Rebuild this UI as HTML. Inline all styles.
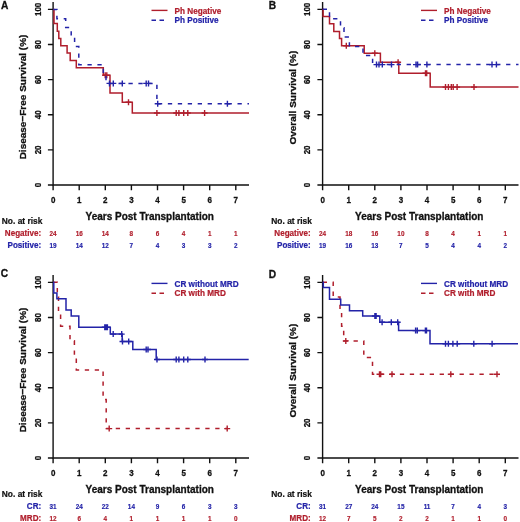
<!DOCTYPE html>
<html><head><meta charset="utf-8"><style>
html,body{margin:0;padding:0;background:#fff;width:520px;height:522px;overflow:hidden}
svg{display:block;filter:blur(0.3px)}
text{font-family:"Liberation Sans", sans-serif;font-weight:bold;fill:#111;stroke:#111;stroke-width:0.3px}
.tk{font-size:8px;stroke-width:0.25px}
.tt{font-size:10px;stroke-width:0.3px}
.lt{font-size:10.2px;stroke-width:0.3px}
.lg{font-size:8.2px;stroke-width:0.2px}
.rk{font-size:8.1px;stroke-width:0.2px}
.nm{font-size:6.4px;stroke-width:0.15px}
.nr{font-size:8.4px}
</style></head><body>
<svg width="520" height="522" viewBox="0 0 520 522">
<rect width="520" height="522" fill="#fff"/>
<g transform="translate(0,0)">
<path d="M53.1,2 V185.0 H249" fill="none" stroke="#111" stroke-width="1.4"/>
<path d="M47.9,185.00 H53.1 M47.9,149.88 H53.1 M47.9,114.76 H53.1 M47.9,79.64 H53.1 M47.9,44.52 H53.1 M47.9,9.40 H53.1 M53.10,185.0 V190.2 M79.20,185.0 V190.2 M105.30,185.0 V190.2 M131.40,185.0 V190.2 M157.50,185.0 V190.2 M183.60,185.0 V190.2 M209.70,185.0 V190.2 M235.80,185.0 V190.2" stroke="#111" stroke-width="1.4"/>
<text transform="translate(40.80,185.00) rotate(-90) scale(1,1.12)" text-anchor="middle" class="tk">0</text>
<text transform="translate(40.80,149.88) rotate(-90) scale(1,1.12)" text-anchor="middle" class="tk">20</text>
<text transform="translate(40.80,114.76) rotate(-90) scale(1,1.12)" text-anchor="middle" class="tk">40</text>
<text transform="translate(40.80,79.64) rotate(-90) scale(1,1.12)" text-anchor="middle" class="tk">60</text>
<text transform="translate(40.80,44.52) rotate(-90) scale(1,1.12)" text-anchor="middle" class="tk">80</text>
<text transform="translate(40.80,9.40) rotate(-90) scale(1,1.12)" text-anchor="middle" class="tk">100</text>
<text transform="translate(53.10,203.20) scale(1,1.12)" text-anchor="middle" class="tk">0</text>
<text transform="translate(79.20,203.20) scale(1,1.12)" text-anchor="middle" class="tk">1</text>
<text transform="translate(105.30,203.20) scale(1,1.12)" text-anchor="middle" class="tk">2</text>
<text transform="translate(131.40,203.20) scale(1,1.12)" text-anchor="middle" class="tk">3</text>
<text transform="translate(157.50,203.20) scale(1,1.12)" text-anchor="middle" class="tk">4</text>
<text transform="translate(183.60,203.20) scale(1,1.12)" text-anchor="middle" class="tk">5</text>
<text transform="translate(209.70,203.20) scale(1,1.12)" text-anchor="middle" class="tk">6</text>
<text transform="translate(235.80,203.20) scale(1,1.12)" text-anchor="middle" class="tk">7</text>
<text transform="translate(149.70,220.00) scale(1,1.0)" text-anchor="middle" class="tt">Years Post Transplantation</text>
<text transform="translate(25.70,97.00) rotate(-90) scale(1,0.97)" text-anchor="middle" class="tt">Disease−Free Survival (%)</text>
<text transform="translate(1.00,9.00) scale(1,1.04)" class="lt">A</text>
<path d="M151.5,10.4 H167.5" stroke="#b01e2c" stroke-width="1.4"/>
<text transform="translate(174.50,13.50) scale(1,1.12)" class="lg" style="fill:#b01e2c;stroke:#b01e2c">Ph Negative</text>
<path d="M151.5,20.3 H167.5" stroke="#2323a8" stroke-width="1.4" stroke-dasharray="4.5 3.5"/>
<text transform="translate(174.50,23.40) scale(1,1.12)" class="lg" style="fill:#2323a8;stroke:#2323a8">Ph Positive</text>
<text transform="translate(1.80,223.80) scale(1,1.12)" class="rk nr">No. at risk</text>
<text transform="translate(41.20,235.80) scale(1,1.12)" text-anchor="end" class="rk" style="fill:#b01e2c;stroke:#b01e2c">Negative:</text>
<text transform="translate(53.10,235.60) scale(1,1.12)" text-anchor="middle" class="nm" style="fill:#b01e2c;stroke:#b01e2c">24</text>
<text transform="translate(79.20,235.60) scale(1,1.12)" text-anchor="middle" class="nm" style="fill:#b01e2c;stroke:#b01e2c">16</text>
<text transform="translate(105.30,235.60) scale(1,1.12)" text-anchor="middle" class="nm" style="fill:#b01e2c;stroke:#b01e2c">14</text>
<text transform="translate(131.40,235.60) scale(1,1.12)" text-anchor="middle" class="nm" style="fill:#b01e2c;stroke:#b01e2c">8</text>
<text transform="translate(157.50,235.60) scale(1,1.12)" text-anchor="middle" class="nm" style="fill:#b01e2c;stroke:#b01e2c">6</text>
<text transform="translate(183.60,235.60) scale(1,1.12)" text-anchor="middle" class="nm" style="fill:#b01e2c;stroke:#b01e2c">4</text>
<text transform="translate(209.70,235.60) scale(1,1.12)" text-anchor="middle" class="nm" style="fill:#b01e2c;stroke:#b01e2c">1</text>
<text transform="translate(235.80,235.60) scale(1,1.12)" text-anchor="middle" class="nm" style="fill:#b01e2c;stroke:#b01e2c">1</text>
<text transform="translate(41.20,247.80) scale(1,1.12)" text-anchor="end" class="rk" style="fill:#2323a8;stroke:#2323a8">Positive:</text>
<text transform="translate(53.10,247.60) scale(1,1.12)" text-anchor="middle" class="nm" style="fill:#2323a8;stroke:#2323a8">19</text>
<text transform="translate(79.20,247.60) scale(1,1.12)" text-anchor="middle" class="nm" style="fill:#2323a8;stroke:#2323a8">14</text>
<text transform="translate(105.30,247.60) scale(1,1.12)" text-anchor="middle" class="nm" style="fill:#2323a8;stroke:#2323a8">12</text>
<text transform="translate(131.40,247.60) scale(1,1.12)" text-anchor="middle" class="nm" style="fill:#2323a8;stroke:#2323a8">7</text>
<text transform="translate(157.50,247.60) scale(1,1.12)" text-anchor="middle" class="nm" style="fill:#2323a8;stroke:#2323a8">4</text>
<text transform="translate(183.60,247.60) scale(1,1.12)" text-anchor="middle" class="nm" style="fill:#2323a8;stroke:#2323a8">3</text>
<text transform="translate(209.70,247.60) scale(1,1.12)" text-anchor="middle" class="nm" style="fill:#2323a8;stroke:#2323a8">3</text>
<text transform="translate(235.80,247.60) scale(1,1.12)" text-anchor="middle" class="nm" style="fill:#2323a8;stroke:#2323a8">2</text>
<path d="M53.2,9.4 H54 V23.6 H57.3 V31.2 H58.8 V38.6 H60.8 V45.8 H67.1 V53.1 H70.2 V60.4 H76.3 V67.7 H103.3 V75.3 H110 V93.1 H122.3 V102.3 H132.3 V113 H249" fill="none" stroke="#b01e2c" stroke-width="1.5"/>
<path d="M102.2,75.3 H108.2 M105.2,72.3 V78.3 M103.8,75.3 H109.8 M106.8,72.3 V78.3 M125.5,102.3 H131.5 M128.5,99.3 V105.3 M153.9,113 H159.9 M156.9,110 V116 M173.2,113 H179.2 M176.2,110 V116 M175.9,113 H181.9 M178.9,110 V116 M180.7,113 H186.7 M183.7,110 V116 M184.8,113 H190.8 M187.8,110 V116 M201.6,113 H207.6 M204.6,110 V116" stroke="#b01e2c" stroke-width="1.4"/>
<path d="M53.2,9.4 H56.9 V18.8 H65.7 V27.6 H71.2 V37.2 H74.6 V46.5 H78.8 V64.7 H103.3 V74 H106 V83.4 H156.9 V103.7 H249" fill="none" stroke="#2323a8" stroke-width="1.5" stroke-dasharray="4.3 5.65"/>
<path d="M106.5,83.4 H112.5 M109.5,80.4 V86.4 M110.3,83.4 H116.3 M113.3,80.4 V86.4 M119.3,83.4 H125.3 M122.3,80.4 V86.4 M143.2,83.4 H149.2 M146.2,80.4 V86.4 M145.5,83.4 H151.5 M148.5,80.4 V86.4 M154.7,103.7 H160.7 M157.7,100.7 V106.7 M224.4,103.7 H230.4 M227.4,100.7 V106.7" stroke="#2323a8" stroke-width="1.4"/>
</g>
<g transform="translate(269.5,0)">
<path d="M53.1,2 V185.0 H249" fill="none" stroke="#111" stroke-width="1.4"/>
<path d="M47.9,185.00 H53.1 M47.9,149.88 H53.1 M47.9,114.76 H53.1 M47.9,79.64 H53.1 M47.9,44.52 H53.1 M47.9,9.40 H53.1 M53.10,185.0 V190.2 M79.20,185.0 V190.2 M105.30,185.0 V190.2 M131.40,185.0 V190.2 M157.50,185.0 V190.2 M183.60,185.0 V190.2 M209.70,185.0 V190.2 M235.80,185.0 V190.2" stroke="#111" stroke-width="1.4"/>
<text transform="translate(40.80,185.00) rotate(-90) scale(1,1.12)" text-anchor="middle" class="tk">0</text>
<text transform="translate(40.80,149.88) rotate(-90) scale(1,1.12)" text-anchor="middle" class="tk">20</text>
<text transform="translate(40.80,114.76) rotate(-90) scale(1,1.12)" text-anchor="middle" class="tk">40</text>
<text transform="translate(40.80,79.64) rotate(-90) scale(1,1.12)" text-anchor="middle" class="tk">60</text>
<text transform="translate(40.80,44.52) rotate(-90) scale(1,1.12)" text-anchor="middle" class="tk">80</text>
<text transform="translate(40.80,9.40) rotate(-90) scale(1,1.12)" text-anchor="middle" class="tk">100</text>
<text transform="translate(53.10,203.20) scale(1,1.12)" text-anchor="middle" class="tk">0</text>
<text transform="translate(79.20,203.20) scale(1,1.12)" text-anchor="middle" class="tk">1</text>
<text transform="translate(105.30,203.20) scale(1,1.12)" text-anchor="middle" class="tk">2</text>
<text transform="translate(131.40,203.20) scale(1,1.12)" text-anchor="middle" class="tk">3</text>
<text transform="translate(157.50,203.20) scale(1,1.12)" text-anchor="middle" class="tk">4</text>
<text transform="translate(183.60,203.20) scale(1,1.12)" text-anchor="middle" class="tk">5</text>
<text transform="translate(209.70,203.20) scale(1,1.12)" text-anchor="middle" class="tk">6</text>
<text transform="translate(235.80,203.20) scale(1,1.12)" text-anchor="middle" class="tk">7</text>
<text transform="translate(149.70,220.00) scale(1,1.0)" text-anchor="middle" class="tt">Years Post Transplantation</text>
<text transform="translate(26.00,97.60) rotate(-90) scale(1,0.97)" text-anchor="middle" class="tt">Overall Survival (%)</text>
<text transform="translate(-0.80,9.00) scale(1,1.04)" class="lt">B</text>
<path d="M151.5,10.4 H167.5" stroke="#b01e2c" stroke-width="1.4"/>
<text transform="translate(174.50,13.50) scale(1,1.12)" class="lg" style="fill:#b01e2c;stroke:#b01e2c">Ph Negative</text>
<path d="M151.5,20.3 H167.5" stroke="#2323a8" stroke-width="1.4" stroke-dasharray="4.5 3.5"/>
<text transform="translate(174.50,23.40) scale(1,1.12)" class="lg" style="fill:#2323a8;stroke:#2323a8">Ph Positive</text>
<text transform="translate(1.80,223.80) scale(1,1.12)" class="rk nr">No. at risk</text>
<text transform="translate(41.20,235.80) scale(1,1.12)" text-anchor="end" class="rk" style="fill:#b01e2c;stroke:#b01e2c">Negative:</text>
<text transform="translate(53.10,235.60) scale(1,1.12)" text-anchor="middle" class="nm" style="fill:#b01e2c;stroke:#b01e2c">24</text>
<text transform="translate(79.20,235.60) scale(1,1.12)" text-anchor="middle" class="nm" style="fill:#b01e2c;stroke:#b01e2c">18</text>
<text transform="translate(105.30,235.60) scale(1,1.12)" text-anchor="middle" class="nm" style="fill:#b01e2c;stroke:#b01e2c">16</text>
<text transform="translate(131.40,235.60) scale(1,1.12)" text-anchor="middle" class="nm" style="fill:#b01e2c;stroke:#b01e2c">10</text>
<text transform="translate(157.50,235.60) scale(1,1.12)" text-anchor="middle" class="nm" style="fill:#b01e2c;stroke:#b01e2c">8</text>
<text transform="translate(183.60,235.60) scale(1,1.12)" text-anchor="middle" class="nm" style="fill:#b01e2c;stroke:#b01e2c">4</text>
<text transform="translate(209.70,235.60) scale(1,1.12)" text-anchor="middle" class="nm" style="fill:#b01e2c;stroke:#b01e2c">1</text>
<text transform="translate(235.80,235.60) scale(1,1.12)" text-anchor="middle" class="nm" style="fill:#b01e2c;stroke:#b01e2c">1</text>
<text transform="translate(41.20,247.80) scale(1,1.12)" text-anchor="end" class="rk" style="fill:#2323a8;stroke:#2323a8">Positive:</text>
<text transform="translate(53.10,247.60) scale(1,1.12)" text-anchor="middle" class="nm" style="fill:#2323a8;stroke:#2323a8">19</text>
<text transform="translate(79.20,247.60) scale(1,1.12)" text-anchor="middle" class="nm" style="fill:#2323a8;stroke:#2323a8">16</text>
<text transform="translate(105.30,247.60) scale(1,1.12)" text-anchor="middle" class="nm" style="fill:#2323a8;stroke:#2323a8">13</text>
<text transform="translate(131.40,247.60) scale(1,1.12)" text-anchor="middle" class="nm" style="fill:#2323a8;stroke:#2323a8">7</text>
<text transform="translate(157.50,247.60) scale(1,1.12)" text-anchor="middle" class="nm" style="fill:#2323a8;stroke:#2323a8">5</text>
<text transform="translate(183.60,247.60) scale(1,1.12)" text-anchor="middle" class="nm" style="fill:#2323a8;stroke:#2323a8">4</text>
<text transform="translate(209.70,247.60) scale(1,1.12)" text-anchor="middle" class="nm" style="fill:#2323a8;stroke:#2323a8">4</text>
<text transform="translate(235.80,247.60) scale(1,1.12)" text-anchor="middle" class="nm" style="fill:#2323a8;stroke:#2323a8">2</text>
<path d="M53.2,9.2 H53.6 V16.4 H60.0 V23.8 H64.3 V31.5 H70.0 V38.5 H72.1 V45.8 H94.7 V53.3 H110.9 V62.2 H129.3 V73.3 H160.7 V87.1 H249" fill="none" stroke="#b01e2c" stroke-width="1.5"/>
<path d="M73.8,45.8 H79.8 M76.8,42.8 V48.8 M102.3,53.3 H108.3 M105.3,50.3 V56.3 M125.6,62.2 H131.6 M128.6,59.2 V65.2 M153.0,73.3 H159.0 M156.0,70.3 V76.3 M154.2,73.3 H160.2 M157.2,70.3 V76.3 M173,87.1 H179 M176,84.1 V90.1 M175.9,87.1 H181.9 M178.9,84.1 V90.1 M178.8,87.1 H184.8 M181.8,84.1 V90.1 M180.7,87.1 H186.7 M183.7,84.1 V90.1 M184.6,87.1 H190.6 M187.6,84.1 V90.1 M201.5,87.1 H207.5 M204.5,84.1 V90.1" stroke="#b01e2c" stroke-width="1.4"/>
<path d="M53.2,9.2 H60.0 V18.7 H71.0 V27.8 H74.5 V37 H79.9 V46.5 H93.5 V55.5 H103.1 V64.6 H249" fill="none" stroke="#2323a8" stroke-width="1.5" stroke-dasharray="4.3 5.65"/>
<path d="M104,64.6 H110 M107,61.599999999999994 V67.6 M106.5,64.6 H112.5 M109.5,61.599999999999994 V67.6 M109.8,64.6 H115.8 M112.8,61.599999999999994 V67.6 M119,64.6 H125 M122,61.599999999999994 V67.6 M143.5,64.6 H149.5 M146.5,61.599999999999994 V67.6 M145.1,64.6 H151.1 M148.1,61.599999999999994 V67.6 M154.4,64.6 H160.4 M157.4,61.599999999999994 V67.6 M219.5,64.6 H225.5 M222.5,61.599999999999994 V67.6 M223.9,64.6 H229.9 M226.9,61.599999999999994 V67.6" stroke="#2323a8" stroke-width="1.4"/>
</g>
<g transform="translate(0,273)">
<path d="M53.1,2 V185.0 H249" fill="none" stroke="#111" stroke-width="1.4"/>
<path d="M47.9,185.00 H53.1 M47.9,149.88 H53.1 M47.9,114.76 H53.1 M47.9,79.64 H53.1 M47.9,44.52 H53.1 M47.9,9.40 H53.1 M53.10,185.0 V190.2 M79.20,185.0 V190.2 M105.30,185.0 V190.2 M131.40,185.0 V190.2 M157.50,185.0 V190.2 M183.60,185.0 V190.2 M209.70,185.0 V190.2 M235.80,185.0 V190.2" stroke="#111" stroke-width="1.4"/>
<text transform="translate(40.80,185.00) rotate(-90) scale(1,1.12)" text-anchor="middle" class="tk">0</text>
<text transform="translate(40.80,149.88) rotate(-90) scale(1,1.12)" text-anchor="middle" class="tk">20</text>
<text transform="translate(40.80,114.76) rotate(-90) scale(1,1.12)" text-anchor="middle" class="tk">40</text>
<text transform="translate(40.80,79.64) rotate(-90) scale(1,1.12)" text-anchor="middle" class="tk">60</text>
<text transform="translate(40.80,44.52) rotate(-90) scale(1,1.12)" text-anchor="middle" class="tk">80</text>
<text transform="translate(40.80,9.40) rotate(-90) scale(1,1.12)" text-anchor="middle" class="tk">100</text>
<text transform="translate(53.10,203.20) scale(1,1.12)" text-anchor="middle" class="tk">0</text>
<text transform="translate(79.20,203.20) scale(1,1.12)" text-anchor="middle" class="tk">1</text>
<text transform="translate(105.30,203.20) scale(1,1.12)" text-anchor="middle" class="tk">2</text>
<text transform="translate(131.40,203.20) scale(1,1.12)" text-anchor="middle" class="tk">3</text>
<text transform="translate(157.50,203.20) scale(1,1.12)" text-anchor="middle" class="tk">4</text>
<text transform="translate(183.60,203.20) scale(1,1.12)" text-anchor="middle" class="tk">5</text>
<text transform="translate(209.70,203.20) scale(1,1.12)" text-anchor="middle" class="tk">6</text>
<text transform="translate(235.80,203.20) scale(1,1.12)" text-anchor="middle" class="tk">7</text>
<text transform="translate(149.70,220.00) scale(1,1.0)" text-anchor="middle" class="tt">Years Post Transplantation</text>
<text transform="translate(25.70,97.00) rotate(-90) scale(1,0.97)" text-anchor="middle" class="tt">Disease−Free Survival (%)</text>
<text transform="translate(0.80,4.20) scale(1,1.04)" class="lt">C</text>
<path d="M151.5,10.4 H167.5" stroke="#2323a8" stroke-width="1.4"/>
<text transform="translate(174.50,13.50) scale(1,1.12)" class="lg" style="fill:#2323a8;stroke:#2323a8">CR without MRD</text>
<path d="M151.5,20.3 H167.5" stroke="#b01e2c" stroke-width="1.4" stroke-dasharray="4.5 3.5"/>
<text transform="translate(174.50,23.40) scale(1,1.12)" class="lg" style="fill:#b01e2c;stroke:#b01e2c">CR with MRD</text>
<text transform="translate(1.80,223.80) scale(1,1.12)" class="rk nr">No. at risk</text>
<text transform="translate(41.20,235.80) scale(1,1.12)" text-anchor="end" class="rk" style="fill:#2323a8;stroke:#2323a8">CR:</text>
<text transform="translate(53.10,235.60) scale(1,1.12)" text-anchor="middle" class="nm" style="fill:#2323a8;stroke:#2323a8">31</text>
<text transform="translate(79.20,235.60) scale(1,1.12)" text-anchor="middle" class="nm" style="fill:#2323a8;stroke:#2323a8">24</text>
<text transform="translate(105.30,235.60) scale(1,1.12)" text-anchor="middle" class="nm" style="fill:#2323a8;stroke:#2323a8">22</text>
<text transform="translate(131.40,235.60) scale(1,1.12)" text-anchor="middle" class="nm" style="fill:#2323a8;stroke:#2323a8">14</text>
<text transform="translate(157.50,235.60) scale(1,1.12)" text-anchor="middle" class="nm" style="fill:#2323a8;stroke:#2323a8">9</text>
<text transform="translate(183.60,235.60) scale(1,1.12)" text-anchor="middle" class="nm" style="fill:#2323a8;stroke:#2323a8">6</text>
<text transform="translate(209.70,235.60) scale(1,1.12)" text-anchor="middle" class="nm" style="fill:#2323a8;stroke:#2323a8">3</text>
<text transform="translate(235.80,235.60) scale(1,1.12)" text-anchor="middle" class="nm" style="fill:#2323a8;stroke:#2323a8">3</text>
<text transform="translate(41.20,247.80) scale(1,1.12)" text-anchor="end" class="rk" style="fill:#b01e2c;stroke:#b01e2c">MRD:</text>
<text transform="translate(53.10,247.60) scale(1,1.12)" text-anchor="middle" class="nm" style="fill:#b01e2c;stroke:#b01e2c">12</text>
<text transform="translate(79.20,247.60) scale(1,1.12)" text-anchor="middle" class="nm" style="fill:#b01e2c;stroke:#b01e2c">6</text>
<text transform="translate(105.30,247.60) scale(1,1.12)" text-anchor="middle" class="nm" style="fill:#b01e2c;stroke:#b01e2c">4</text>
<text transform="translate(131.40,247.60) scale(1,1.12)" text-anchor="middle" class="nm" style="fill:#b01e2c;stroke:#b01e2c">1</text>
<text transform="translate(157.50,247.60) scale(1,1.12)" text-anchor="middle" class="nm" style="fill:#b01e2c;stroke:#b01e2c">1</text>
<text transform="translate(183.60,247.60) scale(1,1.12)" text-anchor="middle" class="nm" style="fill:#b01e2c;stroke:#b01e2c">1</text>
<text transform="translate(209.70,247.60) scale(1,1.12)" text-anchor="middle" class="nm" style="fill:#b01e2c;stroke:#b01e2c">1</text>
<text transform="translate(235.80,247.60) scale(1,1.12)" text-anchor="middle" class="nm" style="fill:#b01e2c;stroke:#b01e2c">0</text>
<path d="M53.2,9.2 H57.3 V23.9 H58.5 V38.5 H60.6 V53.2 H70.0 V67.8 H74.4 V82.4 H76.3 V97.0 H103.1 V126.5 H106.2 V155.6 H227.2" fill="none" stroke="#b01e2c" stroke-width="1.5" stroke-dasharray="4.3 5.65"/>
<path d="M106.2,155.6 H112.2 M109.2,152.6 V158.6 M224.2,155.6 H230.2 M227.2,152.6 V158.6" stroke="#b01e2c" stroke-width="1.4"/>
<path d="M53.2,9.2 H53.8 V20.0 H56.9 V25.8 H66.0 V37.0 H71.2 V43.1 H78.8 V54.3 H110.3 V61.1 H122.2 V68.5 H132.8 V76.5 H156.2 V86.5 H248.7" fill="none" stroke="#2323a8" stroke-width="1.5"/>
<path d="M101.8,54.3 H107.8 M104.8,51.3 V57.3 M102.7,54.3 H108.7 M105.7,51.3 V57.3 M103.6,54.3 H109.6 M106.6,51.3 V57.3 M104.4,54.3 H110.4 M107.4,51.3 V57.3 M110.2,61.1 H116.2 M113.2,58.1 V64.1 M118.7,61.1 H124.7 M121.7,58.1 V64.1 M119.5,68.5 H125.5 M122.5,65.5 V71.5 M125.69999999999999,68.5 H131.7 M128.7,65.5 V71.5 M143.2,76.5 H149.2 M146.2,73.5 V79.5 M145,76.5 H151 M148,73.5 V79.5 M154,86.5 H160 M157,83.5 V89.5 M173.2,86.5 H179.2 M176.2,83.5 V89.5 M175.9,86.5 H181.9 M178.9,83.5 V89.5 M180.7,86.5 H186.7 M183.7,83.5 V89.5 M184.8,86.5 H190.8 M187.8,83.5 V89.5 M202,86.5 H208 M205,83.5 V89.5" stroke="#2323a8" stroke-width="1.4"/>
</g>
<g transform="translate(269.5,273)">
<path d="M53.1,2 V185.0 H249" fill="none" stroke="#111" stroke-width="1.4"/>
<path d="M47.9,185.00 H53.1 M47.9,149.88 H53.1 M47.9,114.76 H53.1 M47.9,79.64 H53.1 M47.9,44.52 H53.1 M47.9,9.40 H53.1 M53.10,185.0 V190.2 M79.20,185.0 V190.2 M105.30,185.0 V190.2 M131.40,185.0 V190.2 M157.50,185.0 V190.2 M183.60,185.0 V190.2 M209.70,185.0 V190.2 M235.80,185.0 V190.2" stroke="#111" stroke-width="1.4"/>
<text transform="translate(40.80,185.00) rotate(-90) scale(1,1.12)" text-anchor="middle" class="tk">0</text>
<text transform="translate(40.80,149.88) rotate(-90) scale(1,1.12)" text-anchor="middle" class="tk">20</text>
<text transform="translate(40.80,114.76) rotate(-90) scale(1,1.12)" text-anchor="middle" class="tk">40</text>
<text transform="translate(40.80,79.64) rotate(-90) scale(1,1.12)" text-anchor="middle" class="tk">60</text>
<text transform="translate(40.80,44.52) rotate(-90) scale(1,1.12)" text-anchor="middle" class="tk">80</text>
<text transform="translate(40.80,9.40) rotate(-90) scale(1,1.12)" text-anchor="middle" class="tk">100</text>
<text transform="translate(53.10,203.20) scale(1,1.12)" text-anchor="middle" class="tk">0</text>
<text transform="translate(79.20,203.20) scale(1,1.12)" text-anchor="middle" class="tk">1</text>
<text transform="translate(105.30,203.20) scale(1,1.12)" text-anchor="middle" class="tk">2</text>
<text transform="translate(131.40,203.20) scale(1,1.12)" text-anchor="middle" class="tk">3</text>
<text transform="translate(157.50,203.20) scale(1,1.12)" text-anchor="middle" class="tk">4</text>
<text transform="translate(183.60,203.20) scale(1,1.12)" text-anchor="middle" class="tk">5</text>
<text transform="translate(209.70,203.20) scale(1,1.12)" text-anchor="middle" class="tk">6</text>
<text transform="translate(235.80,203.20) scale(1,1.12)" text-anchor="middle" class="tk">7</text>
<text transform="translate(149.70,220.00) scale(1,1.0)" text-anchor="middle" class="tt">Years Post Transplantation</text>
<text transform="translate(26.00,97.60) rotate(-90) scale(1,0.97)" text-anchor="middle" class="tt">Overall Survival (%)</text>
<text transform="translate(-0.80,5.00) scale(1,1.04)" class="lt">D</text>
<path d="M151.5,10.4 H167.5" stroke="#2323a8" stroke-width="1.4"/>
<text transform="translate(174.50,13.50) scale(1,1.12)" class="lg" style="fill:#2323a8;stroke:#2323a8">CR without MRD</text>
<path d="M151.5,20.3 H167.5" stroke="#b01e2c" stroke-width="1.4" stroke-dasharray="4.5 3.5"/>
<text transform="translate(174.50,23.40) scale(1,1.12)" class="lg" style="fill:#b01e2c;stroke:#b01e2c">CR with MRD</text>
<text transform="translate(1.80,223.80) scale(1,1.12)" class="rk nr">No. at risk</text>
<text transform="translate(41.20,235.80) scale(1,1.12)" text-anchor="end" class="rk" style="fill:#2323a8;stroke:#2323a8">CR:</text>
<text transform="translate(53.10,235.60) scale(1,1.12)" text-anchor="middle" class="nm" style="fill:#2323a8;stroke:#2323a8">31</text>
<text transform="translate(79.20,235.60) scale(1,1.12)" text-anchor="middle" class="nm" style="fill:#2323a8;stroke:#2323a8">27</text>
<text transform="translate(105.30,235.60) scale(1,1.12)" text-anchor="middle" class="nm" style="fill:#2323a8;stroke:#2323a8">24</text>
<text transform="translate(131.40,235.60) scale(1,1.12)" text-anchor="middle" class="nm" style="fill:#2323a8;stroke:#2323a8">15</text>
<text transform="translate(157.50,235.60) scale(1,1.12)" text-anchor="middle" class="nm" style="fill:#2323a8;stroke:#2323a8">11</text>
<text transform="translate(183.60,235.60) scale(1,1.12)" text-anchor="middle" class="nm" style="fill:#2323a8;stroke:#2323a8">7</text>
<text transform="translate(209.70,235.60) scale(1,1.12)" text-anchor="middle" class="nm" style="fill:#2323a8;stroke:#2323a8">4</text>
<text transform="translate(235.80,235.60) scale(1,1.12)" text-anchor="middle" class="nm" style="fill:#2323a8;stroke:#2323a8">3</text>
<text transform="translate(41.20,247.80) scale(1,1.12)" text-anchor="end" class="rk" style="fill:#b01e2c;stroke:#b01e2c">MRD:</text>
<text transform="translate(53.10,247.60) scale(1,1.12)" text-anchor="middle" class="nm" style="fill:#b01e2c;stroke:#b01e2c">12</text>
<text transform="translate(79.20,247.60) scale(1,1.12)" text-anchor="middle" class="nm" style="fill:#b01e2c;stroke:#b01e2c">7</text>
<text transform="translate(105.30,247.60) scale(1,1.12)" text-anchor="middle" class="nm" style="fill:#b01e2c;stroke:#b01e2c">5</text>
<text transform="translate(131.40,247.60) scale(1,1.12)" text-anchor="middle" class="nm" style="fill:#b01e2c;stroke:#b01e2c">2</text>
<text transform="translate(157.50,247.60) scale(1,1.12)" text-anchor="middle" class="nm" style="fill:#b01e2c;stroke:#b01e2c">2</text>
<text transform="translate(183.60,247.60) scale(1,1.12)" text-anchor="middle" class="nm" style="fill:#b01e2c;stroke:#b01e2c">1</text>
<text transform="translate(209.70,247.60) scale(1,1.12)" text-anchor="middle" class="nm" style="fill:#b01e2c;stroke:#b01e2c">1</text>
<text transform="translate(235.80,247.60) scale(1,1.12)" text-anchor="middle" class="nm" style="fill:#b01e2c;stroke:#b01e2c">0</text>
<path d="M53.2,9.2 H63.7 V24 H70.5 V38.6 H72.1 V53.2 H74.2 V67.9 H94.3 V84.5 H103 V101.2 H227.5" fill="none" stroke="#b01e2c" stroke-width="1.5" stroke-dasharray="4.3 5.65"/>
<path d="M73.3,67.9 H79.3 M76.3,64.9 V70.9 M107,101.2 H113 M110,98.2 V104.2 M108.2,101.2 H114.2 M111.2,98.2 V104.2 M119.5,101.2 H125.5 M122.5,98.2 V104.2 M178.3,101.2 H184.3 M181.3,98.2 V104.2 M224.5,101.2 H230.5 M227.5,98.2 V104.2" stroke="#b01e2c" stroke-width="1.4"/>
<path d="M53.2,9.2 H53.8 V14.6 H60.0 V26.2 H71.2 V31.9 H80.0 V37.7 H93.2 V43 H110.3 V49.3 H129.1 V57.6 H160.5 V70.7 H248.5" fill="none" stroke="#2323a8" stroke-width="1.5"/>
<path d="M102.4,43 H108.4 M105.4,40 V46 M103.6,43 H109.6 M106.6,40 V46 M109.6,49.3 H115.6 M112.6,46.3 V52.3 M118.8,49.3 H124.8 M121.8,46.3 V52.3 M125.19999999999999,49.3 H131.2 M128.2,46.3 V52.3 M143.1,57.6 H149.1 M146.1,54.6 V60.6 M144.8,57.6 H150.8 M147.8,54.6 V60.6 M152.9,57.6 H158.9 M155.9,54.6 V60.6 M154,57.6 H160 M157,54.6 V60.6 M173,70.7 H179 M176,67.7 V73.7 M175.9,70.7 H181.9 M178.9,67.7 V73.7 M180.4,70.7 H186.4 M183.4,67.7 V73.7 M184.7,70.7 H190.7 M187.7,67.7 V73.7 M201.3,70.7 H207.3 M204.3,67.7 V73.7 M219.6,70.7 H225.6 M222.6,67.7 V73.7" stroke="#2323a8" stroke-width="1.4"/>
</g>
</svg>
</body></html>
